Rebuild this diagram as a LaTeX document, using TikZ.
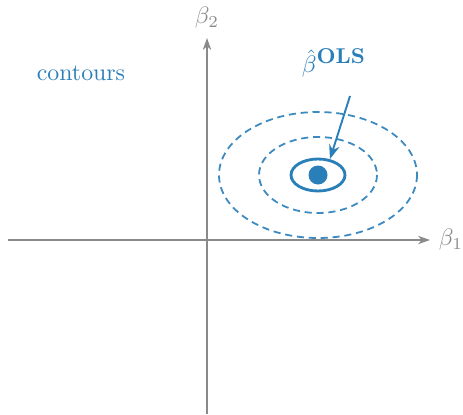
\documentclass[tikz,border=0pt]{standalone}
\usetikzlibrary{arrows.meta}
\usepackage{amsmath}
\definecolor{olsblue}{HTML}{2B7FB9}
\definecolor{dashblue}{HTML}{3D8AC0}
\definecolor{axisgray}{HTML}{8A8A8A}
\begin{document}
\begin{tikzpicture}[x=0.42pt,y=-0.42pt,
  axis/.style={draw=axisgray,line width=0.55pt,-{Stealth[length=5pt,width=3.5pt,inset=1.5pt]}},
  axlabel/.style={text=axisgray,inner sep=0pt},
  contour/.style={draw=dashblue,dash pattern=on 3pt off 2pt,line width=0.75pt},
  bluelabel/.style={text=olsblue,inner sep=0pt}]
\useasboundingbox (0,0) rectangle (463,414);
% axes
\coordinate (xs) at (8,240);
\coordinate (xe) at (430,240);
\coordinate (ys) at (207,414);
\coordinate (ye) at (207,38);
\draw[axis] (xs) -- (xe);
\draw[axis] (ys) -- (ye);
\node[axlabel] (b1) at (451,240) {$\beta_1$};
\node[axlabel] (b2) at (207,18) {$\beta_2$};
% contours
\coordinate (c) at (318,175);
\draw[contour] (c) ellipse [x radius=99, y radius=63];
\draw[contour] (c) ellipse [x radius=59, y radius=38];
\draw[olsblue,line width=1.2pt] (c) ellipse [x radius=27, y radius=16];
\fill[olsblue] (c) circle [radius=9.5];
\coordinate (inner) at (330,159);
% labels
\node[bluelabel] (ols) at (334,63) {$\hat{\beta}^{\text{\small\bfseries OLS}}$};
\coordinate (astart) at (350,96);
\draw[olsblue,line width=0.8pt,-{Stealth[length=6pt,width=4.5pt,inset=2pt]}] (astart) -- (inner);
\node[bluelabel] (cont) at (81,73) {contours};
\end{tikzpicture}
\end{document}
